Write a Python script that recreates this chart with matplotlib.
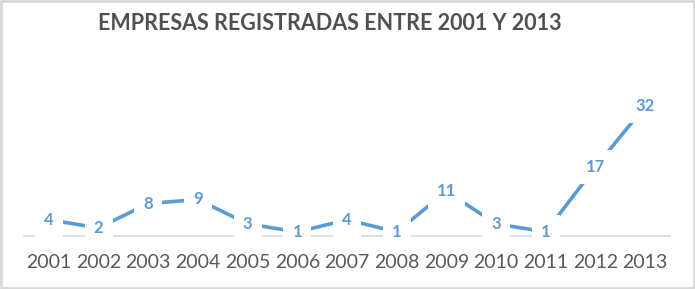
import matplotlib.pyplot as plt
from matplotlib.patches import Rectangle

years = ['2001', '2002', '2003', '2004', '2005', '2006', '2007',
         '2008', '2009', '2010', '2011', '2012', '2013']
empresas = [4, 2, 8, 9, 3, 1, 4, 1, 11, 3, 1, 17, 32]

azul = '#5B9BD5'
gris = '#595959'

fig = plt.figure(figsize=(6.95, 2.89), dpi=100)
ax = fig.add_axes([24 / 695, 53 / 289, 646 / 695, 142 / 289])

x = list(range(len(years)))
ax.plot(x, empresas, color=azul, linewidth=2.6, solid_capstyle='butt', zorder=2)

# etiquetas de datos con fondo blanco (cortan la linea como en Excel)
for xi, v in zip(x, empresas):
    ax.text(xi, v, str(v), ha='center', va='center', color=azul,
            fontsize=12, fontweight='bold', family='Lato',
            bbox=dict(boxstyle='square,pad=0.55', fc='white', ec='none'),
            zorder=3)

ax.set_xlim(-0.5, len(years) - 0.5)
ax.set_ylim(0, 35)
ax.set_xticks(x)
ax.set_xticklabels(years, fontsize=14, color=gris, family='Lato')
ax.tick_params(axis='x', length=0, pad=13)
ax.set_yticks([])
for s in ['top', 'right', 'left']:
    ax.spines[s].set_visible(False)
ax.spines['bottom'].set_color('#D9D9D9')
ax.spines['bottom'].set_linewidth(1.2)
ax.spines['bottom'].set_zorder(1)

fig.text(330 / 695, 1 - 23 / 289, 'EMPRESAS REGISTRADAS ENTRE 2001 Y 2013',
         ha='center', va='center', fontsize=15.5, fontweight='bold',
         color='#505050', family='Lato')

# marco gris alrededor del grafico
fig.patches.append(Rectangle((0.002, 0.004), 0.996, 0.992, transform=fig.transFigure,
                             fill=False, edgecolor='#D9D9D9', linewidth=2))

fig.savefig('out.png', dpi=100)
